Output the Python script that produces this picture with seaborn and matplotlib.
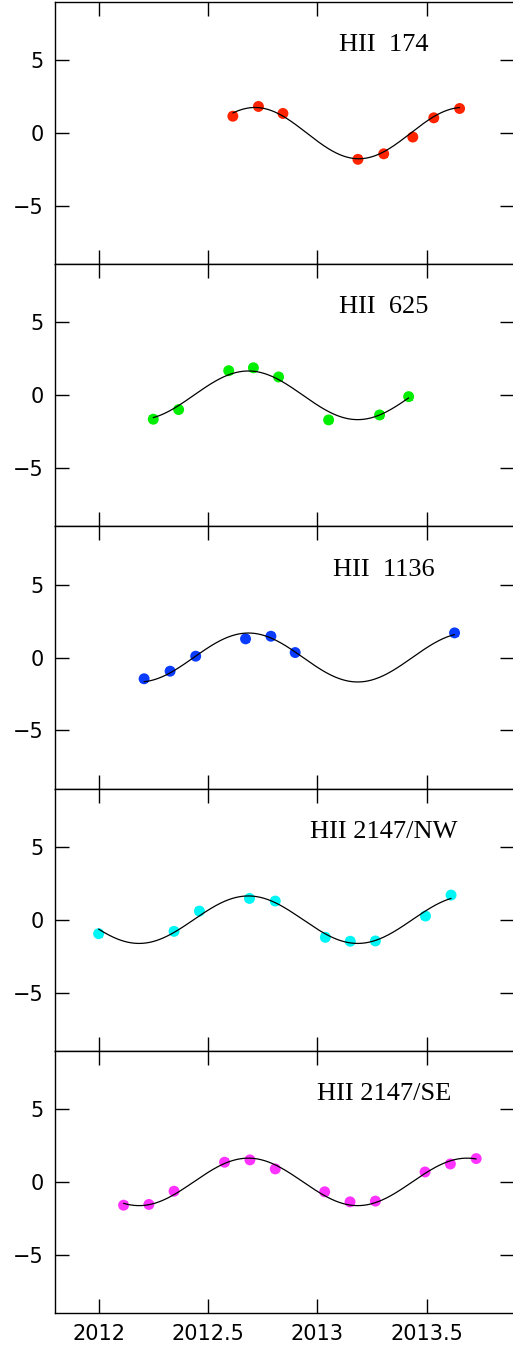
import numpy as np
import pandas as pd
import matplotlib
matplotlib.use("Agg")
import matplotlib.pyplot as plt
import seaborn as sns

sns.set_style("ticks")
plt.rcParams['font.family'] = ['DejaVu Sans']
plt.rcParams['text.color'] = 'black'

# ---- data ----
names = ["HII  174", "HII  625", "HII  1136", "HII 2147/NW", "HII 2147/SE"]
colors = ["#ff2400", "#00ee00", "#0a3cff", "#00f5f5", "#ff33ff"]

t_174 = [2012.614, 2012.731, 2012.843, 2013.186, 2013.304, 2013.437, 2013.533, 2013.651]
y_174 = [1.16, 1.83, 1.35, -1.80, -1.42, -0.27, 1.05, 1.69]

t_625 = [2012.250, 2012.366, 2012.595, 2012.708, 2012.823, 2013.052, 2013.285, 2013.418]
y_625 = [-1.64, -0.98, 1.69, 1.89, 1.26, -1.69, -1.35, -0.09]

t_1136 = [2012.208, 2012.327, 2012.444, 2012.672, 2012.788, 2012.899, 2013.628]
y_1136 = [-1.46, -0.94, 0.09, 1.28, 1.46, 0.34, 1.69]

t_nw = [2012.000, 2012.345, 2012.461, 2012.690, 2012.808, 2013.037, 2013.151, 2013.266, 2013.495, 2013.612]
y_nw = [-0.96, -0.80, 0.59, 1.46, 1.28, -1.21, -1.48, -1.46, 0.25, 1.69]

t_se = [2012.114, 2012.230, 2012.345, 2012.576, 2012.692, 2012.808, 2013.034, 2013.150, 2013.266, 2013.493, 2013.609, 2013.727]
y_se = [-1.60, -1.55, -0.64, 1.35, 1.51, 0.89, -0.68, -1.37, -1.32, 0.68, 1.23, 1.60]

err = 0.2  # small error bars

times = [t_174, t_625, t_1136, t_nw, t_se]
values = [y_174, y_625, y_1136, y_nw, y_se]

# fitted sinusoid parameters per panel (amplitude, time of maximum, period)
fit_amp = [1.76, 1.67, 1.68, 1.63, 1.63]
fit_tmax = [2012.715, 2012.685, 2012.685, 2012.685, 2012.685]
fit_period = [0.95, 1.0, 1.0, 1.0, 1.0]

xticks = [2012, 2012.5, 2013, 2013.5]
xticklabels = ["2012", "2012.5", "2013", "2013.5"]
yticks = [-5, 0, 5]

# ---- figure ----
fig, axes = plt.subplots(5, 1, figsize=(5.13, 13.49), dpi=100, sharex=True)
fig.subplots_adjust(left=0.107, right=1.002, top=0.9985, bottom=0.0267, hspace=0)

for i, ax in enumerate(axes):
    t = np.array(times[i])
    y = np.array(values[i])
    df = pd.DataFrame({"t": t, "y": y})
    ax.errorbar(t, y, yerr=err, fmt="none", ecolor=colors[i], elinewidth=1.2,
                capsize=3, capthick=1.2, zorder=2)
    sns.scatterplot(data=df, x="t", y="y", ax=ax, color=colors[i], s=62,
                    edgecolor="none", zorder=3, legend=False)
    tc = np.linspace(t.min(), t.max(), 400)
    yc = fit_amp[i] * np.cos(2 * np.pi * (tc - fit_tmax[i]) / fit_period[i])
    sns.lineplot(x=tc, y=yc, ax=ax, color="black", linewidth=0.9, zorder=4,
                 sort=False, estimator=None)

    ax.set_xlim(2011.8, 2013.9)
    ax.set_ylim(-9, 9)
    ax.set_yticks(yticks)
    ax.set_yticklabels(["\u22125", "0", "5"])
    ax.set_xticks(xticks)
    ax.set_xticklabels(xticklabels)
    ax.tick_params(direction="in", length=10, width=1, top=True, right=True,
                   labelsize=15, colors="black", pad=8)
    ax.tick_params(axis="x", labelbottom=(i == 4))
    for sp in ax.spines.values():
        sp.set_linewidth(1.0)
        sp.set_color("black")
    ax.set_xlabel("")
    ax.set_ylabel("")
    ax.text(0.716, 0.835, names[i], transform=ax.transAxes, ha="center",
            va="center", fontsize=19, color="black", family=["Liberation Serif"])

fig.savefig("out.png", dpi=100)
